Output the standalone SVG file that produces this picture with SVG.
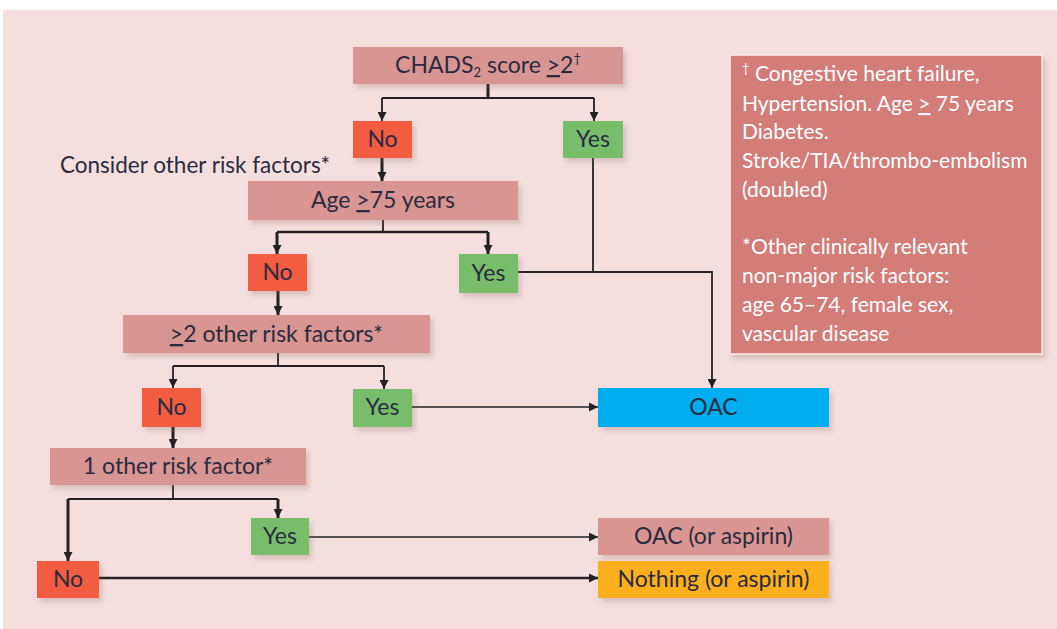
<svg xmlns="http://www.w3.org/2000/svg" width="1057" height="629" viewBox="0 0 1057 629">
<style>
text{font-family:Lato,"Liberation Sans",sans-serif;fill:#2a2b40;}
.lbl{font-size:23px;text-anchor:middle;}
.q{fill:#d99591;}
.no{fill:#f25b3f;}
.yes{fill:#78be6b;}
.oac{fill:#00aeef;}
.nothing{fill:#fdb01a;}
.box{filter:url(#sh);}
.c{fill:none;stroke:#222;stroke-width:1.8;}
.t{fill:none;stroke:#222;stroke-width:3;}
.leg{font-size:21px;fill:#ffffff;}
</style>
<defs>
<filter id="sh" x="-10%" y="-20%" width="130%" height="160%">
<feDropShadow dx="3" dy="4" stdDeviation="2.5" flood-color="#8a5a58" flood-opacity="0.25"/>
</filter>
<marker id="ah" viewBox="0 0 10 10" refX="10" refY="5" markerWidth="9" markerHeight="9" markerUnits="userSpaceOnUse" orient="auto">
<path d="M0,0 L10,5 L0,10 z" fill="#222"/>
</marker>
</defs>
<rect x="0" y="0" width="1057" height="629" fill="#ffffff"/>
<rect x="3" y="10" width="1054" height="619" fill="#f4dfde"/>

<g id="connectors">
<path class="t" d="M488,84 V98"/>
<path class="c" d="M382,98 H594"/>
<path class="c" d="M382,98 V121" marker-end="url(#ah)"/>
<path class="c" d="M594,98 V121" marker-end="url(#ah)"/>
<path class="t" d="M382,158 V181" marker-end="url(#ah)"/>
<path class="c" d="M383,220 V232"/>
<path class="t" d="M277,232 H488" style="stroke-width:2.4"/>
<path class="t" d="M277,232 V254" marker-end="url(#ah)"/>
<path class="t" d="M488,232 V254" marker-end="url(#ah)"/>
<path class="c" d="M593,158 V272"/>
<path class="c" d="M518,272 H712 V388" marker-end="url(#ah)"/>
<path class="t" d="M278,291 V315" marker-end="url(#ah)"/>
<path class="c" d="M278,353 V366"/>
<path class="c" d="M173,366 H384" style="stroke-width:2.2"/>
<path class="c" d="M173,366 V388" marker-end="url(#ah)"/>
<path class="c" d="M384,366 V389" marker-end="url(#ah)"/>
<path class="c" d="M412,407 H598" style="stroke-width:1.5" marker-end="url(#ah)"/>
<path class="t" d="M173,427 V448" marker-end="url(#ah)"/>
<path class="c" d="M173,485 V499"/>
<path class="c" d="M68,499 H278" style="stroke-width:2.2"/>
<path class="t" d="M68,499 V561" marker-end="url(#ah)"/>
<path class="t" d="M278,499 V518" marker-end="url(#ah)"/>
<path class="c" d="M309,537 H598" style="stroke-width:1.5" marker-end="url(#ah)"/>
<path class="t" d="M99,578 H598" style="stroke-width:2.5" marker-end="url(#ah)"/>
</g>

<g id="chads">
<rect class="q box" x="353" y="47" width="270" height="37"/>
<text class="lbl" x="488" y="73">CHADS<tspan font-size="13" dy="4">2</tspan><tspan dy="-4"> score </tspan><tspan text-decoration="underline">&gt;</tspan>2<tspan font-size="13" dy="-10">†</tspan></text>
</g>
<g id="no1">
<rect class="no box" x="353" y="121" width="59" height="37"/>
<text class="lbl" x="382.5" y="147">No</text>
</g>
<g id="yes1">
<rect class="yes box" x="563" y="121" width="60" height="37"/>
<text class="lbl" x="593" y="147">Yes</text>
</g>
<g id="consider">
<text x="60" y="173" style="font-size:22.5px">Consider other risk factors*</text>
</g>
<g id="age">
<rect class="q box" x="248" y="181" width="270" height="39"/>
<text class="lbl" x="383" y="208">Age <tspan text-decoration="underline">&gt;</tspan>75 years</text>
</g>
<g id="no2">
<rect class="no box" x="248" y="254" width="59" height="37"/>
<text class="lbl" x="277.5" y="280">No</text>
</g>
<g id="yes2">
<rect class="yes box" x="459" y="254" width="59" height="39"/>
<text class="lbl" x="488.5" y="281">Yes</text>
</g>
<g id="two-other">
<rect class="q box" x="123" y="315" width="307" height="38"/>
<text class="lbl" x="276.5" y="342"><tspan text-decoration="underline">&gt;</tspan>2 other risk factors*</text>
</g>
<g id="no3">
<rect class="no box" x="142" y="388" width="59" height="39"/>
<text class="lbl" x="171.5" y="415">No</text>
</g>
<g id="yes3">
<rect class="yes box" x="353" y="389" width="59" height="38"/>
<text class="lbl" x="382.5" y="415">Yes</text>
</g>
<g id="oac">
<rect class="oac box" x="598" y="388" width="231" height="39"/>
<text class="lbl" x="713.5" y="415">OAC</text>
</g>
<g id="one-other">
<rect class="q box" x="50" y="448" width="256" height="37"/>
<text class="lbl" x="178" y="474">1 other risk factor*</text>
</g>
<g id="yes4">
<rect class="yes box" x="251" y="518" width="58" height="37"/>
<text class="lbl" x="280" y="544">Yes</text>
</g>
<g id="no4">
<rect class="no box" x="37" y="561" width="62" height="37"/>
<text class="lbl" x="68" y="587">No</text>
</g>
<g id="oac-aspirin">
<rect class="q box" x="598" y="518" width="231" height="37"/>
<text class="lbl" x="713.5" y="544">OAC (or aspirin)</text>
</g>
<g id="nothing">
<rect class="nothing box" x="598" y="561" width="231" height="37"/>
<text class="lbl" x="713.5" y="587">Nothing (or aspirin)</text>
</g>
<g id="legend">
<rect x="730" y="55" width="312" height="299" fill="#d27d78" stroke="#fbecea" stroke-width="1.5" filter="url(#sh)"/>
<text class="leg" x="742" y="81"><tspan font-size="13" dy="-8">†</tspan><tspan dy="8"> Congestive heart failure,</tspan></text>
<text class="leg" x="742" y="111">Hypertension. Age <tspan text-decoration="underline">&gt;</tspan> 75 years</text>
<text class="leg" x="742" y="139">Diabetes.</text>
<text class="leg" x="742" y="168">Stroke/TIA/thrombo-embolism</text>
<text class="leg" x="742" y="197">(doubled)</text>
<text class="leg" x="742" y="254">*Other clinically relevant</text>
<text class="leg" x="742" y="283">non-major risk factors:</text>
<text class="leg" x="742" y="312">age 65–74, female sex,</text>
<text class="leg" x="742" y="341">vascular disease</text>
</g>
</svg>
